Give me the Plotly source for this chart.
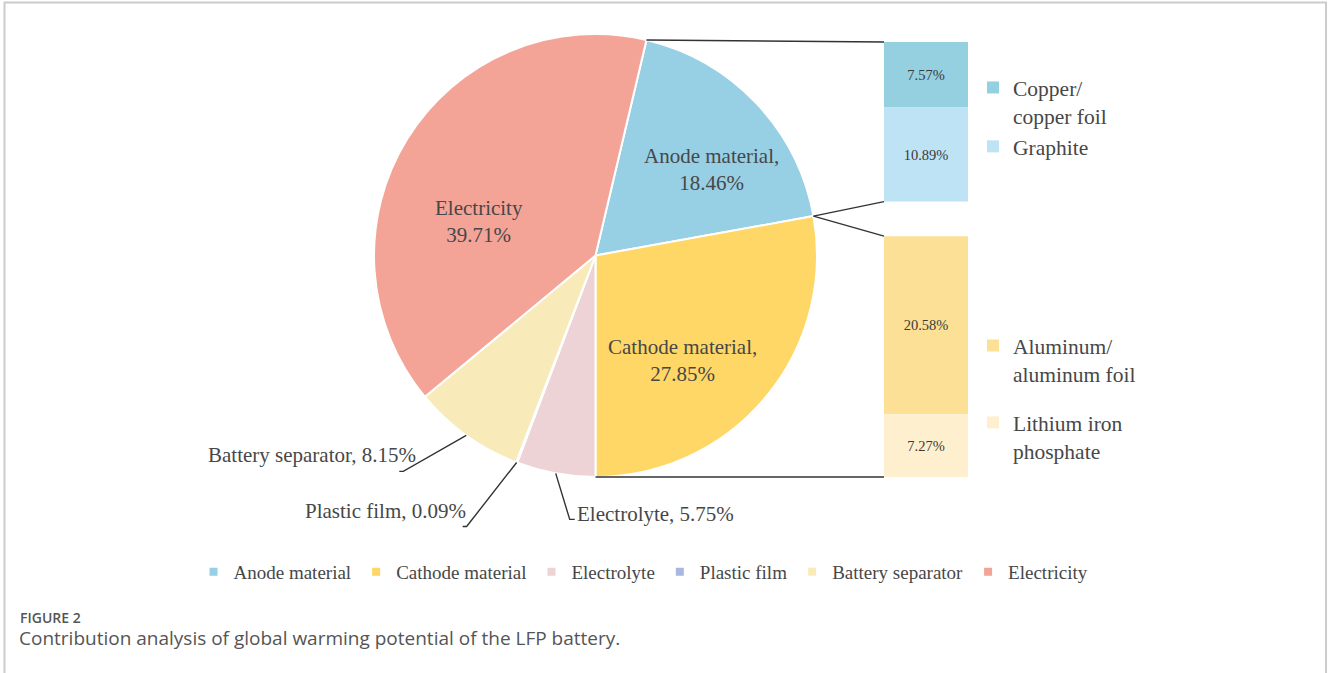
import math
import plotly.graph_objects as go

W, H = 1328, 673

# ---------------- data ----------------
pie_labels = ["Anode material", "Cathode material", "Electrolyte",
              "Plastic film", "Battery separator", "Electricity"]
pie_values = [18.46, 27.85, 5.75, 0.09, 8.15, 39.71]
pie_colors = ["#97CFE4", "#FED766", "#EDD3D5", "#A9B7DE", "#F8EBB9", "#F4A397"]

anode_parts = ["Copper/<br>copper foil", "Graphite"]
anode_values = [7.57, 10.89]
anode_colors = ["#94D0DF", "#BEE3F5"]

cathode_parts = ["Aluminum/<br>aluminum foil", "Lithium iron<br>phosphate"]
cathode_values = [20.58, 7.27]
cathode_colors = ["#FCE096", "#FEF0CE"]

caption_title = "FIGURE 2"
caption_text = "Contribution analysis of global warming potential of the LFP battery."

# ---------------- layout constants (pixels) ----------------
SERIF = "Liberation Serif, Times New Roman, serif"
TXT = "#474747"
CX, CY, R = 595.5, 255.5, 221.5          # pie centre / radius
BX0, BX1 = 884, 968                      # bar column x extent
BY_TOP, BY_BOT = 42, 477                 # bar column y extent
GAP = 4.0                                # gap between the two stacked bars (value units)


def paper(x, y):
    return x / W, 1 - y / H


total = sum(pie_values)
# the anode + cathode slices end exactly at 6 o'clock
rotation = 180 - (pie_values[0] + pie_values[1]) / total * 360
starts = []
acc = 0.0
for v in pie_values:
    starts.append(rotation + acc / total * 360)
    acc += v
mids = [starts[i] + pie_values[i] / total * 180 for i in range(len(pie_values))]


def pie_pt(angle_deg):
    a = math.radians(angle_deg)
    return CX + R * math.sin(a), CY - R * math.cos(a)


cath_total = sum(cathode_values)
anode_total = sum(anode_values)
ymax = cath_total + GAP + anode_total


def bar_y(v):
    return BY_BOT - v / ymax * (BY_BOT - BY_TOP)


fig = go.Figure()

# pie
fig.add_trace(go.Pie(
    labels=pie_labels, values=pie_values, sort=False, direction="clockwise",
    rotation=rotation, textinfo="none", showlegend=False, hoverinfo="label+percent",
    marker=dict(colors=pie_colors, line=dict(color="white", width=2)),
    domain=dict(x=[(CX - R) / W, (CX + R) / W], y=[1 - (CY + R) / H, 1 - (CY - R) / H]),
))

# stacked sub-bars
cath_bases = [cathode_values[1], 0.0]
anode_bases = [cath_total + GAP + anode_values[1], cath_total + GAP]

BAR_FONT = dict(family=SERIF, size=14.5, color="#3a3a3a")
for name, v, c, b in zip(anode_parts, anode_values, anode_colors, anode_bases):
    fig.add_trace(go.Bar(
        x=[0], y=[v], base=[b], width=[1], name=name, marker=dict(color=c, line=dict(width=0)),
        text=[f"{v:.2f}%"], textposition="inside", insidetextanchor="middle", textangle=0,
        textfont=BAR_FONT, legend="legend2", legendgroup=name, xaxis="x", yaxis="y",
    ))
for name, v, c, b in zip(cathode_parts, cathode_values, cathode_colors, cath_bases):
    fig.add_trace(go.Bar(
        x=[0], y=[v], base=[b], width=[1], name=name, marker=dict(color=c, line=dict(width=0)),
        text=[f"{v:.2f}%"], textposition="inside", insidetextanchor="middle", textangle=0,
        textfont=BAR_FONT, legend="legend3", legendgroup=name, xaxis="x", yaxis="y",
    ))

# legend proxies for the pie categories
for name, c in zip(pie_labels, pie_colors):
    fig.add_trace(go.Scatter(
        x=[None], y=[None], mode="markers", name=name,
        marker=dict(symbol="square", size=8, color=c), legend="legend",
        xaxis="x", yaxis="y", hoverinfo="skip",
    ))

shapes = []
LINE = dict(color="#333333", width=1.4)

# connector lines pie -> bars
p_top = pie_pt(starts[0])
p_mid = pie_pt(starts[1])
p_bot = pie_pt(starts[2])
for (x0, y0), (x1, y1) in [
    (p_top, (BX0, bar_y(ymax))),
    (p_mid, (BX0, bar_y(cath_total + GAP))),
    (p_mid, (BX0, bar_y(cath_total))),
    (p_bot, (BX0, bar_y(0))),
]:
    a0 = paper(x0, y0)
    a1 = paper(x1, y1)
    shapes.append(dict(type="line", xref="paper", yref="paper",
                       x0=a0[0], y0=a0[1], x1=a1[0], y1=a1[1], line=LINE, layer="above"))

# leader lines for the small slices: (slice index, elbow offset, hook)
leaders = [(4, (-63, 36), -4), (3, (-50, 64), -4), (2, (14, 46), 5)]
for idx, (dx, dy), hook in leaders:
    ex, ey = pie_pt(mids[idx])
    pts = [(ex, ey), (ex + dx, ey + dy), (ex + dx + hook, ey + dy)]
    pp = [paper(*p) for p in pts]
    path = "M {} {} L {} {} L {} {}".format(pp[0][0], pp[0][1], pp[1][0], pp[1][1], pp[2][0], pp[2][1])
    shapes.append(dict(type="path", xref="paper", yref="paper", path=path,
                       line=LINE, layer="above"))

# figure border
shapes.append(dict(type="rect", xref="paper", yref="paper",
                   x0=4.5 / W, x1=1326 / W, y0=-0.1, y1=1 - 2.5 / H,
                   line=dict(color="#CCCCCC", width=2), layer="below"))

annotations = []


def add_text(text, x, y, xanchor="center", size=21, family=SERIF, color=TXT, weight="normal"):
    px_, py_ = paper(x, y)
    annotations.append(dict(text=text, x=px_, y=py_, xref="paper", yref="paper",
                            xanchor=xanchor, yanchor="middle", showarrow=False,
                            align="center" if xanchor == "center" else xanchor,
                            font=dict(family=family, size=size, color=color, weight=weight)))


add_text(f"{pie_labels[0]},<br>{pie_values[0]:.2f}%", 711, 169)
add_text(f"{pie_labels[5]}<br>{pie_values[5]:.2f}%", 479, 222)
add_text(f"{pie_labels[1]},<br>{pie_values[1]:.2f}%", 683, 360)
add_text(f"{pie_labels[4]}, {pie_values[4]:.2f}%", 418, 455, xanchor="right")
add_text(f"{pie_labels[3]}, {pie_values[3]:.2f}%", 468, 511, xanchor="right")
add_text(f"{pie_labels[2]}, {pie_values[2]:.2f}%", 575, 514, xanchor="left")

add_text(caption_title, 18, 617, xanchor="left", size=14, family="Open Sans", color="#555555", weight=600)
add_text(caption_text, 17, 638, xanchor="left", size=19, family="Open Sans", color="#555555", weight=400)

LEG_FONT = dict(family=SERIF, size=21.5, color=TXT)
fig.update_layout(
    width=W, height=H, margin=dict(l=0, r=0, t=0, b=0, pad=0),
    paper_bgcolor="white", plot_bgcolor="rgba(0,0,0,0)",
    barmode="overlay",
    xaxis=dict(domain=[BX0 / W, BX1 / W], range=[-0.5, 0.5], visible=False, fixedrange=True),
    yaxis=dict(domain=[1 - BY_BOT / H, 1 - BY_TOP / H], range=[0, ymax], visible=False, fixedrange=True),
    legend=dict(orientation="h", x=643.5 / W, xanchor="center", y=1 - 572 / H, yanchor="middle",
                font=dict(family=SERIF, size=19, color=TXT), bgcolor="rgba(0,0,0,0)",
                traceorder="normal"),
    legend2=dict(x=973 / W, xanchor="left", y=1 - 67 / H, yanchor="top", valign="top",
                 font=LEG_FONT, bgcolor="rgba(0,0,0,0)", traceorder="grouped", tracegroupgap=0),
    legend3=dict(x=973 / W, xanchor="left", y=1 - 325 / H, yanchor="top", valign="top",
                 font=LEG_FONT, bgcolor="rgba(0,0,0,0)", traceorder="grouped", tracegroupgap=18),
    shapes=shapes, annotations=annotations,
)

fig.write_html("out.html")
